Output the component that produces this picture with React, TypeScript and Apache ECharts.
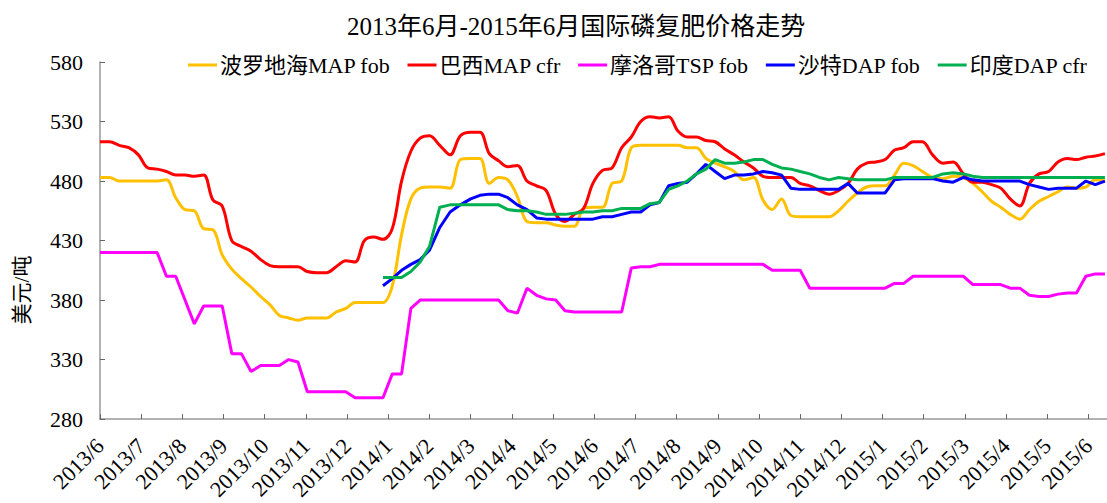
import React, { useEffect, useRef } from "react";
import * as echarts from "echarts";

// Weekly observations, starting 2013-06-01
const START_DATE = "2013-06-01";
const WEEK_COUNT = 107;
const SAUDI_INDIA_START_WEEK = 30;

const monthLabels = [
  "2013/6", "2013/7", "2013/8", "2013/9", "2013/10", "2013/11", "2013/12",
  "2014/1", "2014/2", "2014/3", "2014/4", "2014/5", "2014/6", "2014/7",
  "2014/8", "2014/9", "2014/10", "2014/11", "2014/12", "2015/1", "2015/2",
  "2015/3", "2015/4", "2015/5", "2015/6",
];

const seriesNames = ["波罗地海MAP fob", "巴西MAP cfr", "摩洛哥TSP fob", "沙特DAP fob", "印度DAP cfr"];

const balticMAP = [
  483, 483, 480, 480, 480, 480, 480, 481, 466, 456,
  455, 440, 439, 418, 406, 398, 391, 383, 376, 367,
  365, 363, 365, 365, 365, 370, 373, 378, 378, 378,
  378, 392, 435, 465, 474, 475, 475, 474, 498, 499,
  499, 478, 483, 481, 467, 446, 445, 445, 443, 442,
  442, 457, 458, 458, 478, 480, 508, 510, 510, 510,
  510, 510, 508, 508, 499, 495, 492, 488, 481, 483,
  464, 456, 465, 451, 450, 450, 450, 450, 455, 463,
  470, 475, 476, 476, 485, 495, 493, 488, 483, 482,
  484, 483, 478, 471, 463, 458, 452, 448, 456, 463,
  467, 471, 475, 474, 475, 481, 480,
];

const brazilMAP = [
  513, 513, 510, 508, 502, 491, 490, 488, 485, 485,
  484, 485, 464, 459, 430, 425, 421, 414, 409, 408,
  408, 408, 404, 403, 403, 408, 413, 412, 430, 433,
  431, 440, 480, 505, 516, 518, 510, 502, 518, 521,
  521, 503, 497, 492, 493, 480, 476, 472, 452, 446,
  452, 457, 478, 489, 491, 508, 517, 530, 534, 533,
  534, 522, 517, 517, 514, 513, 507, 502, 496, 491,
  484, 483, 483, 483, 478, 476, 472, 469, 472, 478,
  490, 495, 496, 498, 506, 508, 513, 513, 502, 495,
  496, 486, 479, 479, 477, 474, 465, 459, 478, 486,
  488, 496, 499, 498, 500, 501, 503,
];

const moroccoTSP = [
  420, 420, 420, 420, 420, 420, 420, 400, 400, 380,
  360, 375, 375, 375, 335, 335, 320, 325, 325, 325,
  330, 328, 303, 303, 303, 303, 303, 298, 298, 298,
  298, 318, 318, 373, 380, 380, 380, 380, 380, 380,
  380, 380, 380, 371, 369, 390, 384, 381, 380, 371,
  370, 370, 370, 370, 370, 370, 407, 408, 408, 410,
  410, 410, 410, 410, 410, 410, 410, 410, 410, 410,
  410, 405, 405, 405, 405, 390, 390, 390, 390, 390,
  390, 390, 390, 390, 394, 394, 400, 400, 400, 400,
  400, 400, 393, 393, 393, 393, 390, 390, 384, 383,
  383, 385, 386, 386, 400, 402, 402,
];

// from week 30 (2014/1) onwards
const saudiDAP = [
  392, 398, 405, 410, 414, 422, 441, 454, 460, 465,
  468, 469, 469, 466, 460, 456, 449, 448, 448, 448,
  448, 448, 448, 450, 450, 452, 454, 454, 460, 462,
  476, 478, 479, 486, 494, 488, 482, 485, 485, 486,
  488, 487, 485, 474, 473, 473, 473, 473, 473, 478,
  470, 470, 470, 470, 481, 482, 482, 482, 482, 480,
  479, 483, 481, 480, 480, 480, 480, 480, 477, 475,
  473, 474, 474, 474, 480, 477, 480,
];

const indiaDAP = [
  399, 399, 399, 404, 412, 425, 458, 460, 460, 460,
  460, 460, 460, 456, 455, 455, 454, 452, 452, 452,
  453, 454, 454, 455, 455, 457, 457, 457, 461, 462,
  473, 476, 480, 486, 490, 498, 495, 495, 496, 498,
  498, 494, 491, 490, 488, 486, 483, 481, 483, 482,
  481, 481, 481, 481, 483, 483, 483, 483, 483, 486,
  487, 486, 484, 483, 483, 483, 483, 483, 483, 483,
  483, 483, 483, 483, 483, 483, 483,
];

const colors = ["#FFC000", "#FF0000", "#FF00FF", "#0000FF", "#00B050"];

function monthIndexOfWeek(w: number): number {
  const d = new Date(START_DATE + "T00:00:00Z");
  d.setUTCDate(d.getUTCDate() + 7 * w);
  const y = d.getUTCFullYear();
  const m = d.getUTCMonth();
  const day = d.getUTCDate();
  const dim = new Date(Date.UTC(y, m + 1, 0)).getUTCDate();
  return (y - 2013) * 12 + (m - 5) + (day - 1) / dim;
}

function toPairs(values: number[], startWeek: number) {
  return values.map((v, i) => [monthIndexOfWeek(startWeek + i), v]);
}

const SERIF = "'Liberation Serif', 'Noto Sans CJK SC', serif";

export default function App() {
  const ref = useRef<HTMLDivElement>(null);
  useEffect(() => {
    if (!ref.current) return;
    const chart = echarts.init(ref.current, undefined, { renderer: "svg" });
    const allData = [
      toPairs(balticMAP, 0),
      toPairs(brazilMAP, 0),
      toPairs(moroccoTSP, 0),
      toPairs(saudiDAP, SAUDI_INDIA_START_WEEK),
      toPairs(indiaDAP, SAUDI_INDIA_START_WEEK),
    ];
    const smoothness = [0.35, 0.35, false, false, false];
    chart.setOption({
      animation: false,
      backgroundColor: "#ffffff",
      title: {
        text: "2013年6月-2015年6月国际磷复肥价格走势",
        left: 342,
        top: 9,
        textStyle: { fontSize: 25, fontWeight: "normal", color: "#000", fontFamily: SERIF },
      },
      legend: {
        left: 183,
        top: 49,
        icon: "rect",
        itemWidth: 29,
        itemHeight: 3,
        itemGap: 17,
        textStyle: { fontSize: 22, color: "#000", fontFamily: SERIF, padding: [0, 0, 0, -2] },
        data: seriesNames,
      },
      grid: { left: 100, right: 0, top: 62, bottom: 83, containLabel: false },
      xAxis: {
        type: "value",
        min: 0,
        max: monthIndexOfWeek(WEEK_COUNT - 1) + 0.05,
        interval: 1,
        splitLine: { show: false },
        axisLine: { lineStyle: { color: "#999", width: 1.5 } },
        axisTick: { inside: true, length: 5, lineStyle: { color: "#666" } },
        axisLabel: {
          rotate: 45,
          margin: 23,
          fontSize: 22,
          color: "#000",
          fontFamily: SERIF,
          showMaxLabel: false,
          formatter: (v: number) => {
            const i = Math.round(v);
            if (Math.abs(v - i) > 1e-6) return "";
            return monthLabels[i] ?? "";
          },
        },
      },
      yAxis: {
        type: "value",
        min: 280,
        max: 580,
        interval: 50,
        splitLine: { show: false },
        axisLine: { show: true, lineStyle: { color: "#999", width: 1.5 } },
        axisTick: { show: true, inside: true, length: 5, lineStyle: { color: "#666" } },
        axisLabel: { fontSize: 22, color: "#000", fontFamily: SERIF, margin: 17 },
      },
      graphic: [
        {
          type: "text",
          x: 22,
          y: 290,
          rotation: Math.PI / 2,
          style: {
            text: "美元/吨",
            fontSize: 21,
            fontFamily: SERIF,
            fill: "#000",
            align: "center",
            verticalAlign: "middle",
          },
        },
      ],
      series: seriesNames.map((name, i) => ({
        name,
        type: "line",
        data: allData[i],
        symbol: "none",
        smooth: smoothness[i],
        lineStyle: { color: colors[i], width: 3 },
        itemStyle: { color: colors[i] },
      })),
    });
    return () => chart.dispose();
  }, []);
  return (
    <div
      ref={ref}
      style={{ position: "absolute", left: 0, top: 0, width: 1107, height: 503 }}
    />
  );
}
